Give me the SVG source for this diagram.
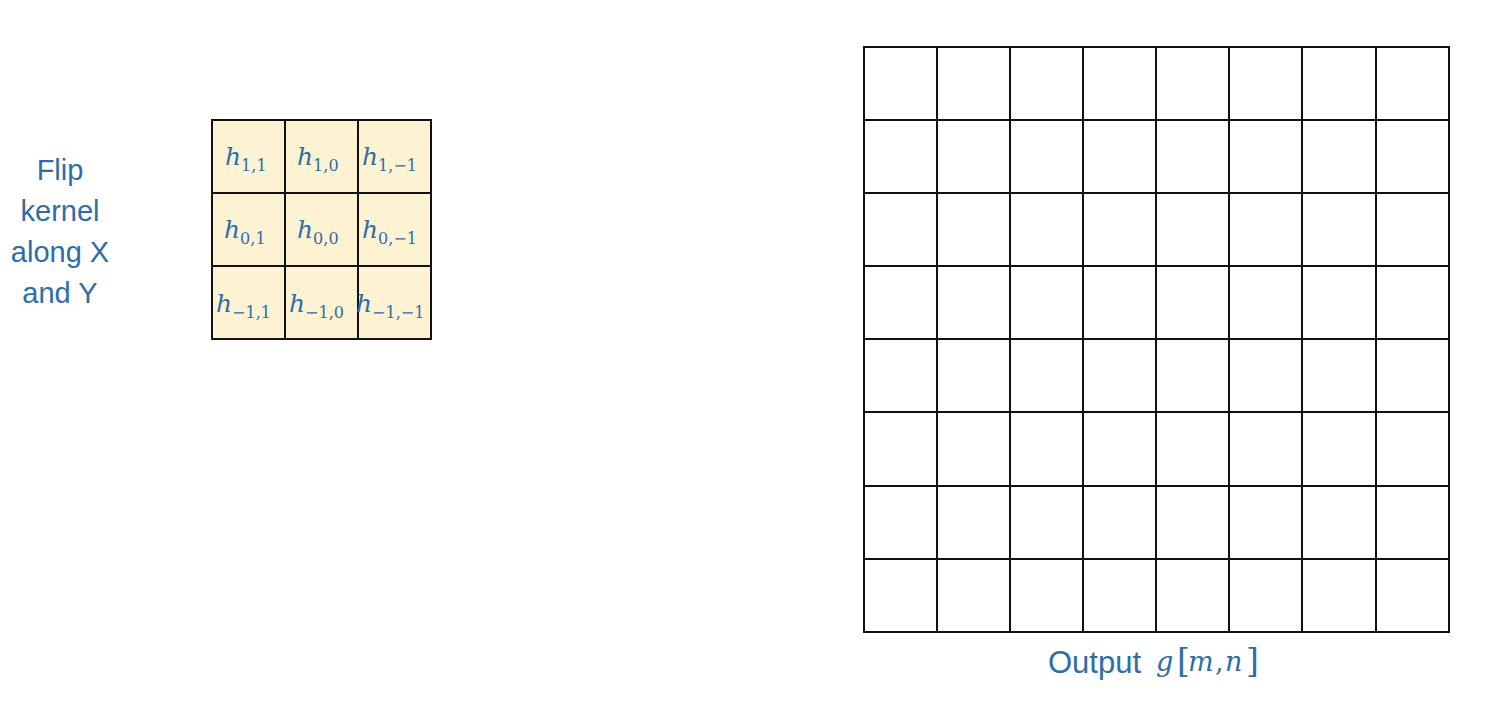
<svg xmlns="http://www.w3.org/2000/svg" width="1510" height="702" viewBox="0 0 1510 702">
<style>
.lbl{font-family:"Liberation Sans",Arial,sans-serif;font-size:29px;fill:#2E6DA8;text-anchor:middle}
.m{font-family:"DejaVu Serif","Liberation Serif",serif;font-style:italic;fill:#2E6DA8}
.h{font-size:25px}
.s{font-size:16px;font-style:normal}
.k{fill:#FDF2D2;stroke:#111;stroke-width:2}
.g{fill:none;stroke:#111;stroke-width:2}
.o{font-size:27px}
.r{font-style:normal;font-size:33px}
</style>
<rect width="1510" height="702" fill="#fff"/>
<g id="label-flip">
<text class="lbl" x="60" y="180">Flip</text>
<text class="lbl" x="60" y="221">kernel</text>
<text class="lbl" x="60" y="262">along X</text>
<text class="lbl" x="60" y="303">and Y</text>
</g>
<g id="kernel">
<rect class="k" x="212" y="120" width="219" height="219"/>
<path class="g" d="M285 120V339M358 120V339M212 193H431M212 266H431"/>
<text class="m" x="225" y="165"><tspan class="h">h</tspan><tspan class="s" dy="6">1,1</tspan></text>
<text class="m" x="297" y="165"><tspan class="h">h</tspan><tspan class="s" dy="6">1,0</tspan></text>
<text class="m" x="362" y="165"><tspan class="h">h</tspan><tspan class="s" dy="6">1,−1</tspan></text>
<text class="m" x="224" y="238"><tspan class="h">h</tspan><tspan class="s" dy="6">0,1</tspan></text>
<text class="m" x="297" y="238"><tspan class="h">h</tspan><tspan class="s" dy="6">0,0</tspan></text>
<text class="m" x="362" y="238"><tspan class="h">h</tspan><tspan class="s" dy="6">0,−1</tspan></text>
<text class="m" x="216" y="312"><tspan class="h">h</tspan><tspan class="s" dy="6">−1,1</tspan></text>
<text class="m" x="289" y="312"><tspan class="h">h</tspan><tspan class="s" dy="6">−1,0</tspan></text>
<text class="m" x="356" y="312"><tspan class="h">h</tspan><tspan class="s" dy="6">−1,−1</tspan></text>
</g>
<g id="output">
<rect class="g" x="864" y="47" width="585" height="585"/>
<path class="g" d="M937 47V632M1010 47V632M1083 47V632M1156 47V632M1229 47V632M1302 47V632M1376 47V632M864 120H1449M864 193H1449M864 266H1449M864 339H1449M864 412H1449M864 486H1449M864 559H1449"/>
<text class="lbl" x="1048" y="673" style="text-anchor:start;font-size:31px">Output</text>
<text class="m o" x="1156" y="671">g</text>
<text class="m r" x="1177" y="672">[</text>
<text class="m o" x="1188" y="671">m</text>
<text class="m o r" x="1215" y="671" style="font-size:27px">,</text>
<text class="m o" x="1225" y="671">n</text>
<text class="m r" x="1246" y="672">]</text>
</g>
</svg>
